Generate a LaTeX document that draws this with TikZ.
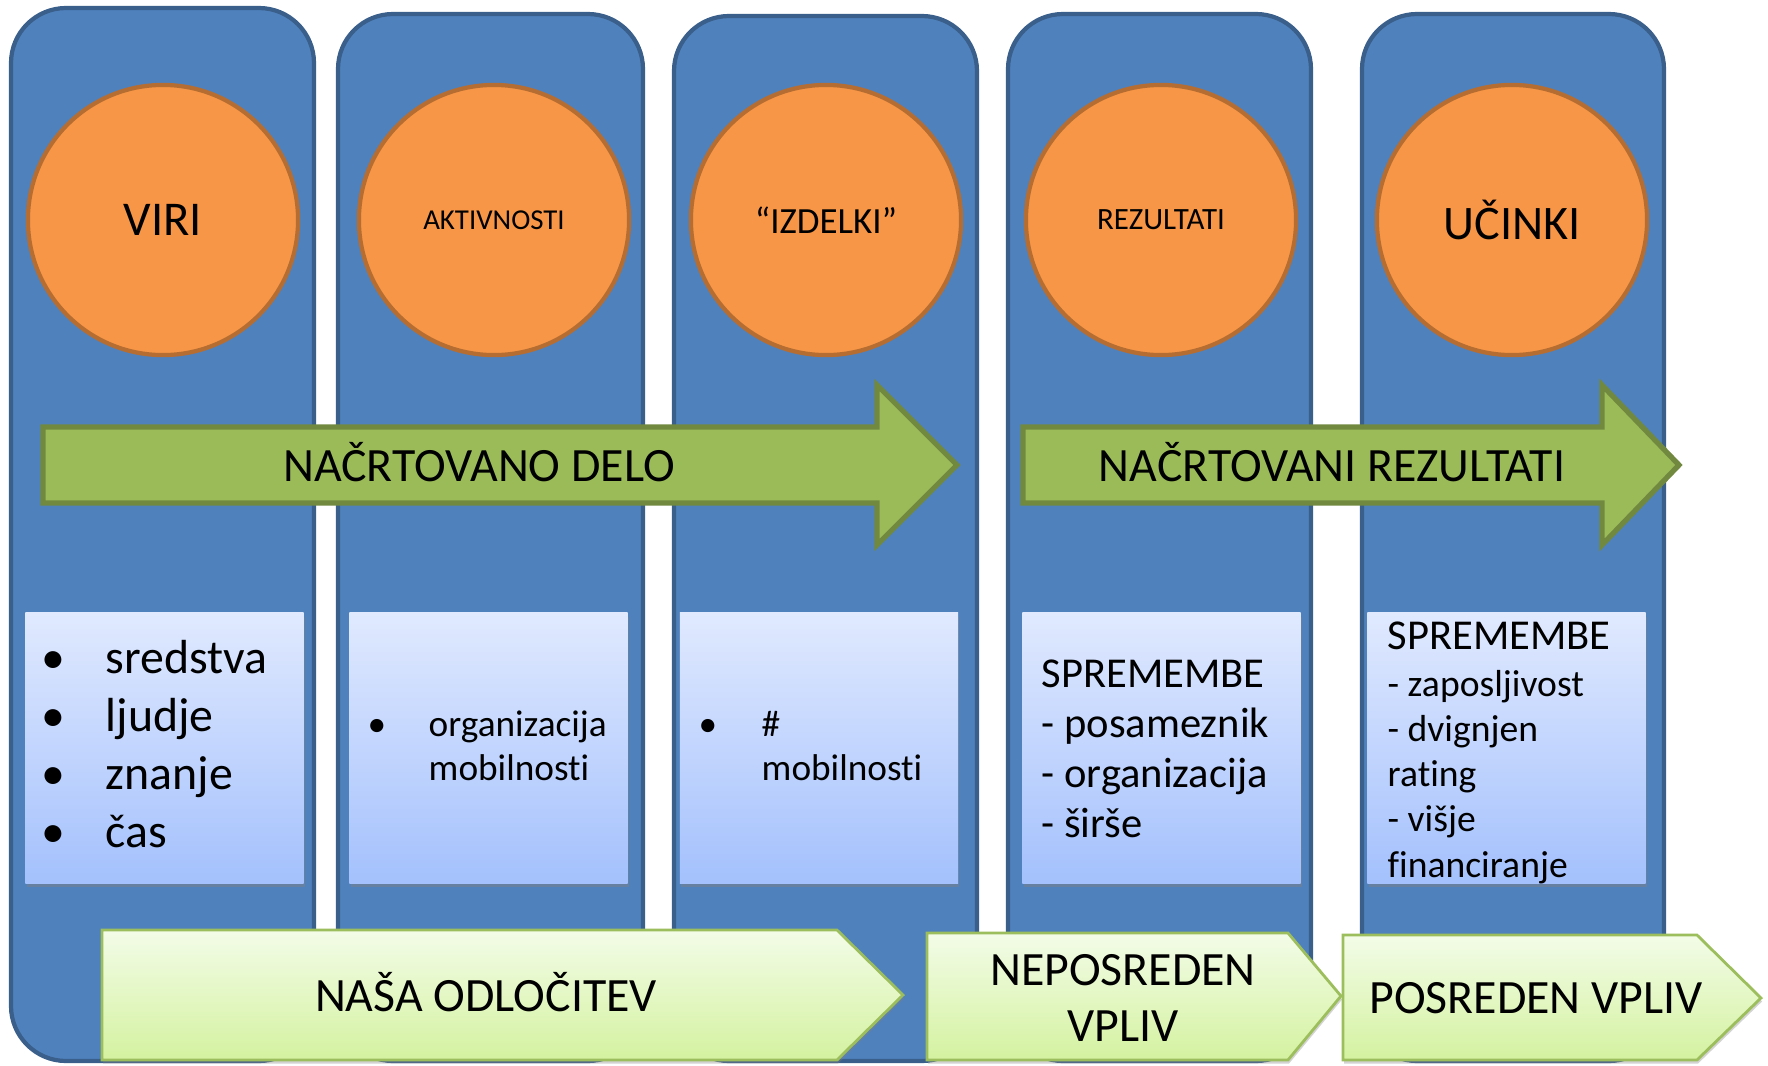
\documentclass[tikz,border=0pt]{standalone}
\usepackage{fontspec}
\setmainfont{Carlito}[Ligatures=NoCommon]
\usetikzlibrary{calc, positioning}
\usetikzlibrary{shadows}
\definecolor{colblue}{HTML}{4F81BD}
\definecolor{coledge}{HTML}{3A5F8B}
\definecolor{discfill}{HTML}{F79646}
\definecolor{discedge}{HTML}{B66D31}
\definecolor{arrowfill}{HTML}{9BBB59}
\definecolor{arrowedge}{HTML}{71893F}
\definecolor{boxtop}{HTML}{E0E9FE}
\definecolor{boxbottom}{HTML}{A4C1FD}
\definecolor{flagtop}{HTML}{F3FCE8}
\definecolor{flagbottom}{HTML}{D4F2A0}
\definecolor{flagedge}{HTML}{9DBE5C}
\tikzset{
    column/.style = {
        draw=coledge, fill=colblue, line width=1.2pt, rounded corners=0.55cm
    },
    disc/.style = {
        draw=discedge, fill=discfill, line width=1.2pt, circle, minimum size=2.7cm, inner sep=0pt
    },
    plan/.style = {draw=arrowedge, fill=arrowfill, line width=1.5pt},
    flag/.style = {draw=flagedge, line width=0.8pt, top color=flagtop, bottom color=flagbottom,
        drop shadow={shadow xshift=0.3pt, shadow yshift=-1pt, opacity=0.35}},
    infobox/.style = {
        top color=boxtop, bottom color=boxbottom, minimum width=2.78cm, minimum height=2.7cm, inner sep=0pt,
        drop shadow={shadow xshift=0.4pt, shadow yshift=-1.2pt, opacity=0.45}
    },
    bigtext/.style = {font=\fontsize{13.6}{16}\selectfont, inner sep=0pt, anchor=base},
    boxtext/.style = {align=left, anchor=base west, inner sep=0pt}
}

\begin{document}
\begin{tikzpicture}[x=0.01cm, y=-0.01cm]
    \useasboundingbox (0,0) rectangle (1768,1066);
    % columns
    \draw[column] (11,8) rectangle (314,1061);
    \draw[column] (338,14) rectangle (643,1061);
    \draw[column] (674,16) rectangle (977,1061);
    \draw[column] (1008,14) rectangle (1311,1061);
    \draw[column] (1362,14) rectangle (1664,1061);
    % circles
    \node[disc, font=\fontsize{13.8}{16}\selectfont] (viri) at (163,220) {VIRI};
    \node[disc, font=\fontsize{8.2}{10}\selectfont] (aktivnosti) at (494,220) {AKTIVNOSTI};
    \node[disc, font=\fontsize{10.5}{12}\selectfont] (izdelki) at (826,220) {“IZDELKI”};
    \node[disc, font=\fontsize{8.8}{10}\selectfont] (rezultati) at (1161,220) {REZULTATI};
    \node[disc, font=\fontsize{13.7}{16}\selectfont] (ucinki) at (1512,220) {UČINKI};
    % green arrows
    \draw[plan] (43,427) -- (877,427) -- (877,385) -- (957,465) -- (877,545) -- (877,503) -- (43,503) -- cycle;
    \node[bigtext] (delo) at (479,481) {NAČRTOVANO DELO};
    \draw[plan] (1023,427) -- (1602,427) -- (1602,385) -- (1679,465) -- (1602,545) -- (1602,503) -- (1023,503) -- cycle;
    \node[bigtext] (nacrtrez) at (1332,481) {NAČRTOVANI REZULTATI};
    % boxes
    \node[infobox] (box1) at (164.5,748) {};
    \node[infobox] (box2) at (488.5,748) {};
    \node[infobox] (box3) at (819,748) {};
    \node[infobox] (box4) at (1161.5,748) {};
    \node[infobox] (box5) at (1506.5,748) {};
    % multi-line texts sit on the baseline of their last line
    \node[boxtext, font=\fontsize{13.6}{16.4}\selectfont] (viritext) at (41,847)
        {\makebox[0.64cm][l]{\textbullet}sredstva\\\makebox[0.64cm][l]{\textbullet}ljudje\\
         \makebox[0.64cm][l]{\textbullet}znanje\\\makebox[0.64cm][l]{\textbullet}čas};
    \node[boxtext, font=\fontsize{10.6}{12.5}\selectfont] (akttext) at (367,780)
        {\makebox[0.61cm][l]{\textbullet}organizacija\\\hspace*{0.61cm}mobilnosti};
    \node[boxtext, font=\fontsize{10.6}{12.5}\selectfont] (izdtext) at (698,780)
        {\makebox[0.63cm][l]{\textbullet}\#\\\hspace*{0.63cm}mobilnosti};
    \node[boxtext, font=\fontsize{12.1}{14.2}\selectfont] (reztext) at (1041,837)
        {SPREMEMBE\\- posameznik\\- organizacija\\- širše};
    \node[boxtext, font=\fontsize{12.1}{14}\selectfont] (uchead) at (1387,649) {SPREMEMBE};
    \node[boxtext, font=\fontsize{10.7}{12.8}\selectfont] (uctext) at (1387,877)
        {- zaposljivost\\- dvignjen\\rating\\- višje\\financiranje};
    % bottom flags
    \draw[flag] (102,930) -- (837,930) -- (903,995) -- (837,1060) -- (102,1060) -- cycle;
    \node[bigtext] (odlocitev) at (486,1011) {NAŠA ODLOČITEV};
    \draw[flag] (927,933) -- (1288,933) -- (1341,996) -- (1288,1060) -- (927,1060) -- cycle;
    \node[bigtext, align=center, font=\fontsize{13.6}{15.9}\selectfont] (neposredno) at (1123,1041) {NEPOSREDEN\\VPLIV};
    \draw[flag] (1343,935) -- (1697,935) -- (1761,998) -- (1697,1060) -- (1343,1060) -- cycle;
    \node[bigtext] (posredno) at (1536,1013) {POSREDEN VPLIV};
\end{tikzpicture}
\end{document}
